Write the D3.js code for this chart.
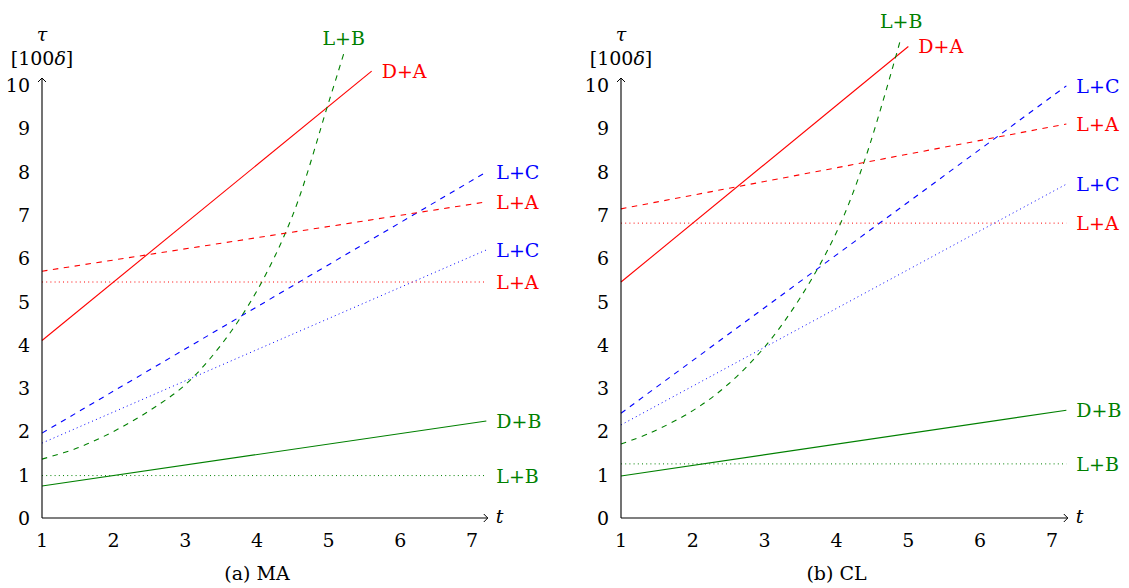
<!DOCTYPE html>
<html>
<head>
<meta charset="utf-8">
<script src="https://cdn.jsdelivr.net/npm/d3@7"></script>
<style>
  body { margin: 0; background: #fff; }
  text { font-family: "DejaVu Serif", "Liberation Serif", serif; font-size: 19px; }
</style>
</head>
<body>
<div id="chart"></div>
<script>
//
// two panels of tau (in 100 delta) against t, one per scheme (MA, CL)
//

////////////////////////////////////////////////////////////////////////
// data

let tTicks = [1, 2, 3, 4, 5, 6, 7];
let yTicks = [0, 1, 2, 3, 4, 5, 6, 7, 8, 9, 10];

// panel (a) MA
let maDA     = [[1, 4.10], [5.6, 10.32]];
let maLBexp  = [[1, 1.36], [1.5, 1.62], [2, 2.0], [2.5, 2.48], [3, 3.08], [3.5, 4.0],
                [4, 5.25], [4.5, 7.0], [5, 9.6], [5.21, 10.72]];
let maLCdash = [[1, 1.96], [7.2, 7.99]];
let maLAdash = [[1, 5.70], [7.2, 7.30]];
let maLCdot  = [[1, 1.73], [7.2, 6.19]];
let maLAdot  = [[1, 5.45], [7.2, 5.45]];
let maDB     = [[1, 0.74], [7.2, 2.24]];
let maLBdot  = [[1, 0.98], [7.2, 0.98]];

// panel (b) CL
let clDA     = [[1, 5.45], [5.0, 10.89]];
let clLBexp  = [[1, 1.71], [1.4, 1.96], [2, 2.48], [2.5, 3.1], [3, 3.95], [3.5, 5.1],
                [4, 6.6], [4.4, 8.3], [4.9, 11.1]];
let clLCdash = [[1, 2.42], [7.2, 9.98]];
let clLAdash = [[1, 7.14], [7.2, 9.10]];
let clLCdot  = [[1, 2.15], [7.2, 7.71]];
let clLAdot  = [[1, 6.81], [7.2, 6.81]];
let clDB     = [[1, 0.97], [7.2, 2.49]];
let clLBdot  = [[1, 1.25], [7.2, 1.25]];

////////////////////////////////////////////////////////////////////////
// helpers

let red = "#ff0000", blue = "#0000ff", green = "#008000";
let dashed = "5.5,5.5", dotted = "1,3.2";
let nudge = 2; // text sits a touch low in the original

let svg = d3.select("#chart").append("svg")
  .attr("width", 1129)
  .attr("height", 588);

function series(pts, name, color, dash, where) {
  return { pts: pts, name: name, color: color, dash: dash, where: where };
}

let panels = [
  { left: 42, right: 472, caption: "(a) MA",
    lines: [
      series(maDA, "D+A", red, null, "right"),
      series(maLBexp, "L+B", green, dashed, "top"),
      series(maLCdash, "L+C", blue, dashed, "right"),
      series(maLAdash, "L+A", red, dashed, "right"),
      series(maLCdot, "L+C", blue, dotted, "right"),
      series(maLAdot, "L+A", red, dotted, "right"),
      series(maDB, "D+B", green, null, "right"),
      series(maLBdot, "L+B", green, dotted, "right")
    ] },
  { left: 621, right: 1052, caption: "(b) CL",
    lines: [
      series(clDA, "D+A", red, null, "right"),
      series(clLBexp, "L+B", green, dashed, "top"),
      series(clLCdash, "L+C", blue, dashed, "right"),
      series(clLAdash, "L+A", red, dashed, "right"),
      series(clLCdot, "L+C", blue, dotted, "right"),
      series(clLAdot, "L+A", red, dotted, "right"),
      series(clDB, "D+B", green, null, "right"),
      series(clLBdot, "L+B", green, dotted, "right")
    ] }
];

function drawPanel(p) {
  let x = d3.scaleLinear().domain([1, 7]).range([p.left, p.right]);
  let y = d3.scaleLinear().domain([0, 10]).range([518, 85]);
  let g = svg.append("g");

  // curves first, axes drawn on top
  let line = d3.line()
    .x(d => x(d[0]))
    .y(d => y(d[1]))
    .curve(d3.curveCatmullRom);

  p.lines.forEach(function(s) {
    g.append("path")
      .attr("d", line(s.pts))
      .attr("fill", "none")
      .attr("stroke", s.color)
      .attr("stroke-width", s.dash === dotted ? 1 : 1.1)
      .attr("stroke-dasharray", s.dash);

    let last = s.pts[s.pts.length - 1];
    let lbl = g.append("text")
      .attr("fill", s.color)
      .attr("dy", nudge)
      .text(s.name);
    if (s.where === "top") {
      lbl.attr("x", x(last[0]))
        .attr("y", y(last[1]) - 16)
        .attr("text-anchor", "middle")
        .attr("dominant-baseline", "middle");
    } else {
      lbl.attr("x", x(last[0]) + 10)
        .attr("y", y(last[1]))
        .attr("dominant-baseline", "middle");
    }
  });

  // axes with arrow tips
  let x0 = x(1), y0 = y(0);
  let xEnd = x(7.22), yEnd = 78;
  g.append("path")
    .attr("d", `M${x0},${y0} H${xEnd} M${x0},${y0} V${yEnd}`)
    .attr("stroke", "#000").attr("stroke-width", 1.1).attr("fill", "none");
  g.append("path")
    .attr("d", `M${xEnd - 4},${y0 - 4} L${xEnd},${y0} L${xEnd - 4},${y0 + 4}` +
               ` M${x0 - 4},${yEnd + 4} L${x0},${yEnd} L${x0 + 4},${yEnd + 4}`)
    .attr("stroke", "#000").attr("stroke-width", 1).attr("fill", "none");

  g.selectAll(".yt").data(yTicks).enter().append("text")
    .attr("x", x0 - 12)
    .attr("y", d => y(d))
    .attr("dy", nudge)
    .attr("text-anchor", "end")
    .attr("dominant-baseline", "middle")
    .text(d => d);

  g.selectAll(".xt").data(tTicks).enter().append("text")
    .attr("x", d => x(d))
    .attr("y", y0 + 22)
    .attr("dy", nudge)
    .attr("text-anchor", "middle")
    .attr("dominant-baseline", "middle")
    .text(d => d);

  g.append("text")
    .attr("x", xEnd + 8).attr("y", y0)
    .attr("dominant-baseline", "middle")
    .attr("font-style", "italic")
    .text("t");

  g.append("text")
    .attr("x", x0).attr("y", 36)
    .attr("text-anchor", "middle")
    .attr("dominant-baseline", "middle")
    .attr("font-style", "italic")
    .text("τ");
  let unit = g.append("text")
    .attr("x", x0).attr("y", 58)
    .attr("dy", nudge)
    .attr("text-anchor", "middle")
    .attr("dominant-baseline", "middle");
  unit.append("tspan").text("[100");
  unit.append("tspan").attr("font-style", "italic").text("δ");
  unit.append("tspan").text("]");

  g.append("text")
    .attr("x", (p.left + p.right) / 2).attr("y", 573)
    .attr("dy", nudge)
    .attr("text-anchor", "middle")
    .attr("dominant-baseline", "middle")
    .text(p.caption);
}

panels.forEach(drawPanel);
</script>
</body>
</html>
